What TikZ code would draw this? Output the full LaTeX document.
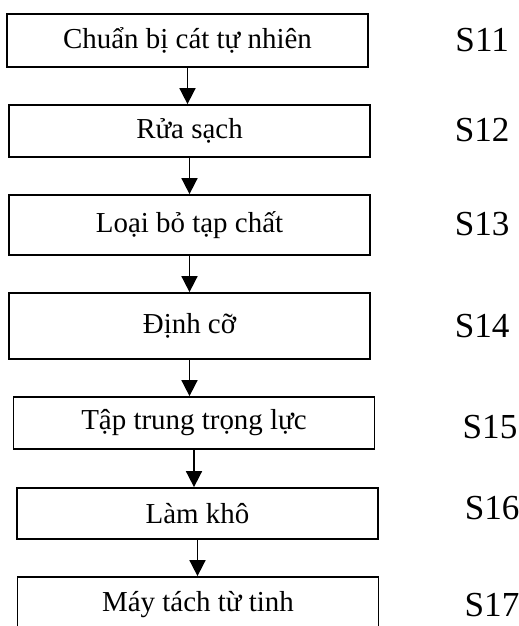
\documentclass[tikz,border=0pt]{standalone}
\usepackage{fontspec}
\setmainfont{Liberation Serif}
\usetikzlibrary{calc,arrows.meta}

\tikzset{
    stepbox/.style={draw, line width=1.5pt, minimum width=10.83cm, minimum height=#1,
        inner sep=0pt, font=\fontsize{24.7}{29}\selectfont},
    stepbox/.default=1.56cm,
    steplabel/.style={font=\fontsize{30}{34}\selectfont},
    flow/.style={line width=1.4pt, -{Triangle[length=0.48cm, width=0.48cm]}}
}

\begin{document}
\begin{tikzpicture}
    \path[use as bounding box, clip] (0, 0) rectangle (15.57, -18.78);

    \node [stepbox=1.59cm] (B1) at (5.625, -1.215) {Chuẩn bị cát tự nhiên};
        \node [stepbox] (B2) at ($(B1) + (0.06, -2.715)$) {Rửa sạch};
        \node [stepbox=1.8cm] (B3) at ($(B2) + (0, -2.82)$) {Loại bỏ tạp chất};
        \node [stepbox=1.98cm] (B4) at ($(B3) + (0, -3.03)$) {Định cỡ};
        \node [stepbox] (B5) at ($(B4) + (0.135, -2.91)$) {Tập trung trọng lực};
        \node [stepbox=1.53cm] (B6) at ($(B5) + (0.105, -2.715)$) {Làm khô};
        \node [stepbox=1.68cm] (B7) at ($(B6) + (0.015, -2.745)$) {Máy tách từ tinh};

    \node [steplabel] (S11) at ($(B1) + (8.84, 0)$) {S11};
    \node [steplabel] (S12) at ($(B2) + (8.78, 0.04)$) {S12};
    \node [steplabel] (S13) at ($(B3) + (8.78, 0.03)$) {S13};
    \node [steplabel] (S14) at ($(B4) + (8.78, 0)$) {S14};
    \node [steplabel] (S15) at ($(B5) + (8.88, -0.12)$) {S15};
    \node [steplabel] (S16) at ($(B6) + (8.84, 0.17)$) {S16};
    \node [steplabel] (S17) at ($(B7) + (8.82, 0)$) {S17};

    \draw [flow] (B1.south) -- (B1.south |- B2.north);
    \draw [flow] (B2.south) -- (B2.south |- B3.north);
    \draw [flow] (B3.south) -- (B3.south |- B4.north);
    \draw [flow] (B4.south) -- (B4.south |- B5.north);
    \draw [flow] (B5.south) -- (B5.south |- B6.north);
    \draw [flow] (B6.south) -- (B6.south |- B7.north);
\end{tikzpicture}
\end{document}
